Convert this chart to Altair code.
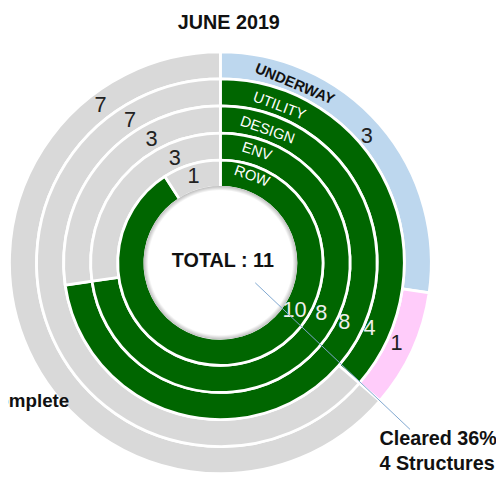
import math
import altair as alt
import pandas as pd

# ---------------- data ----------------
categories = ["UNDERWAY", "UTILITY", "DESIGN", "ENV", "ROW"]
progress = [3, 4, 8, 8, 10]     # blue for UNDERWAY, green for the others
flagged = [1, 0, 0, 0, 0]       # pink segment
remaining = [7, 7, 3, 3, 1]     # grey
total = 11
title_text = "JUNE 2019"
center_text = "TOTAL : 11"
note_lines = ["Cleared 36%", "4 Structures"]
side_text = "Complete"

# ---------------- layout / style ----------------
CX, CY = 215, 255
OUTER = 213.5
PITCH = 27.4
SEP = 2.8
FONT = "Liberation Sans, Arial, sans-serif"
COLORS = {"Underway": "#bdd7ee", "Flagged": "#ffccfa", "Done": "#006600", "Remaining": "#d9d9d9"}

# label layout (degrees clockwise from north, radius in px)
remain_lab_deg = [322.8, 327.7, 330.8, 336.5, 342.9]
remain_lab_r = [200.5, 171, 143, 116, 92]
prog_lab_deg = [None, 113.7, 115.5, 116.3, 122.6]
prog_lab_r = [None, 165, 139, 114, 89]
cat_lab_deg = [22.6, 20.6, 19.5, 18.1, 20.0]
cat_lab_r = [196.3, 169.8, 142.9, 118.9, 93.6]

rows = []
for i, cat in enumerate(categories):
    st = "Underway" if i == 0 else "Done"
    for k, (s, v) in enumerate([(st, progress[i]), ("Flagged", flagged[i]), ("Remaining", remaining[i])]):
        if v > 0:
            rows.append({"ring": cat, "status": s, "value": v, "order": k})
df = pd.DataFrame(rows)

color_scale = alt.Scale(domain=list(COLORS.keys()), range=list(COLORS.values()))

layers = []
for i, cat in enumerate(categories):
    ro = OUTER - i * PITCH
    ri = ro - PITCH
    layers.append(
        alt.Chart(df).transform_filter(alt.datum.ring == cat)
        .mark_arc(radius=ro, radius2=ri, stroke="white", strokeWidth=SEP)
        .encode(
            theta=alt.Theta("value:Q", stack=True),
            order=alt.Order("order:Q"),
            color=alt.Color("status:N", scale=color_scale, legend=None),
            x=alt.value(CX), y=alt.value(CY),
        )
    )

hole_r = OUTER - 5 * PITCH
shadow = alt.Chart(pd.DataFrame({"a": [0]})).mark_arc(
    radius=hole_r + 1.2, radius2=hole_r - 3.5, theta=0, theta2=2 * math.pi,
    fill=alt.RadialGradient(
        gradient="radial",
        stops=[alt.GradientStop(offset=0, color="#ffffff"), alt.GradientStop(offset=1, color="#bdbdbd")],
        x1=0.5, y1=0.5, r1=(hole_r - 3.5) / (2 * (hole_r + 1.2)),
        x2=0.5, y2=0.5, r2=0.5,
    ),
).encode(x=alt.value(CX), y=alt.value(CY))

# value labels
vrows = []
vrows.append({"txt": str(progress[0]), "theta": 2 * math.pi * (progress[0] / 2) / total, "r": 196, "c": "#222222"})
vrows.append({"txt": str(flagged[0]), "theta": 2 * math.pi * (progress[0] + flagged[0] / 2) / total, "r": 196, "c": "#222222"})
for i in range(1, 5):
    vrows.append({"txt": str(progress[i]), "theta": math.radians(prog_lab_deg[i]), "r": prog_lab_r[i], "c": "#eeeeee"})
for i in range(5):
    vrows.append({"txt": str(remaining[i]), "theta": math.radians(remain_lab_deg[i]), "r": remain_lab_r[i], "c": "#222222"})
vdf = pd.DataFrame(vrows)

values = alt.Chart(vdf).mark_text(font=FONT, fontSize=22, baseline="middle", align="center").encode(
    x=alt.value(CX), y=alt.value(CY),
    theta=alt.Theta("theta:Q", scale=None, stack=None),
    radius=alt.Radius("r:Q", scale=None),
    text="txt:N",
    color=alt.Color("c:N", scale=None),
)

cdf = pd.DataFrame({
    "txt": categories,
    "theta": [math.radians(d) for d in cat_lab_deg],
    "r": cat_lab_r,
    "rot": cat_lab_deg,
})
cat_bold = alt.Chart(cdf.iloc[:1]).mark_text(font=FONT, fontSize=15, fontWeight="bold", baseline="middle", align="center", color="#111111").encode(
    x=alt.value(CX), y=alt.value(CY),
    theta=alt.Theta("theta:Q", scale=None, stack=None),
    radius=alt.Radius("r:Q", scale=None),
    angle=alt.Angle("rot:Q", scale=None),
    text="txt:N",
)
cat_plain = alt.Chart(cdf.iloc[1:]).mark_text(font=FONT, fontSize=15, baseline="middle", align="center", color="white").encode(
    x=alt.value(CX), y=alt.value(CY),
    theta=alt.Theta("theta:Q", scale=None, stack=None),
    radius=alt.Radius("r:Q", scale=None),
    angle=alt.Angle("rot:Q", scale=None),
    text="txt:N",
)

one = pd.DataFrame({"a": [0]})
title = alt.Chart(one).mark_text(font=FONT, fontSize=20, fontWeight="bold", baseline="middle", align="center", color="#111111").encode(
    x=alt.value(223.5), y=alt.value(12), text=alt.value(title_text))
center = alt.Chart(one).mark_text(font=FONT, fontSize=20, fontWeight="bold", baseline="middle", align="center", color="#111111").encode(
    x=alt.value(217.5), y=alt.value(253), text=alt.value(center_text))
note = alt.Chart(one).mark_text(font=FONT, fontSize=20, fontWeight="bold", baseline="middle", align="left", lineHeight=26, color="#111111").encode(
    x=alt.value(376), y=alt.value(433), text=alt.value(note_lines))
side = alt.Chart(one).mark_text(font=FONT, fontSize=19, fontWeight="bold", baseline="middle", align="right", color="#111111").encode(
    x=alt.value(62), y=alt.value(395.5), text=alt.value(side_text))
leader = alt.Chart(one).mark_rule(color="#7fa7cf", strokeWidth=1).encode(
    x=alt.value(250.3), y=alt.value(275.3), x2=alt.value(407), y2=alt.value(423.7))

chart = alt.layer(*layers, shadow, values, cat_bold, cat_plain, title, center, leader, note, side).properties(
    width=494, height=471, autosize=alt.AutoSizeParams(type="none"), padding=0,
).resolve_scale(theta="independent", radius="independent").configure_view(stroke=None)

chart.save("out.html", embed_options={"renderer": "svg", "actions": False})
